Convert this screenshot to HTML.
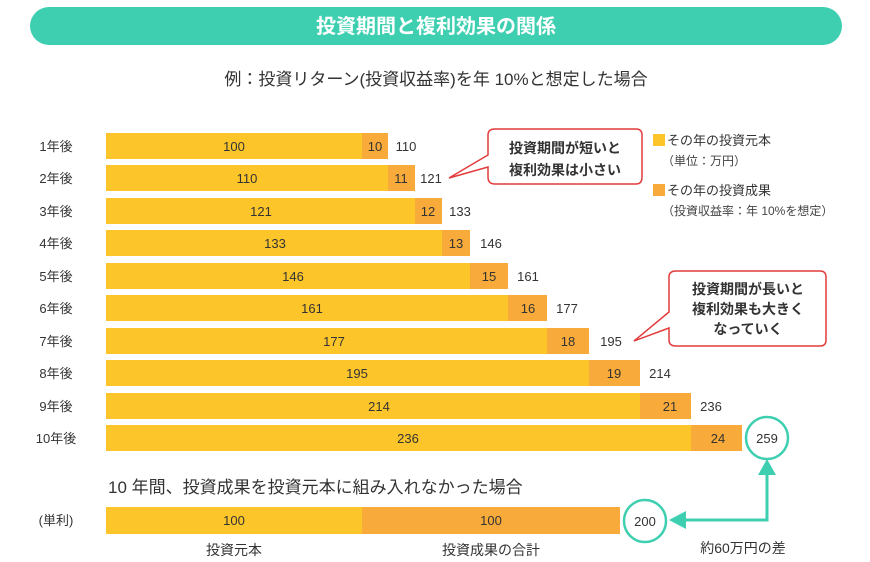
<!DOCTYPE html>
<html><head><meta charset="utf-8"><style>
body{margin:0;background:#fff;}
svg{display:block;font-family:"Liberation Sans","Noto Sans CJK JP",sans-serif;}
</style></head><body>
<svg width="870" height="562" viewBox="0 0 870 562" xmlns="http://www.w3.org/2000/svg">
<rect x="30" y="7" width="812" height="38" rx="19" fill="#3ecfb1"/>
<text x="436" y="33" font-size="20" font-weight="bold" fill="#fff" text-anchor="middle">投資期間と複利効果の関係</text>
<text x="436" y="85" font-size="17" fill="#333" text-anchor="middle">例：投資リターン(投資収益率)を年 10%と想定した場合</text>
<g font-size="13" fill="#333">
<g id="rows"></g>
</g>
<g font-size="13" fill="#333" text-anchor="middle">
<!-- rows: top=133+(i)*32.4 -->
<text x="56" y="151">1年後</text>
<rect x="106" y="133" width="256" height="26" fill="#fcc52a"/><rect x="362" y="133" width="26" height="26" fill="#f8ab3a"/>
<text x="234" y="151">100</text><text x="375" y="151">10</text><text x="406" y="151">110</text>

<text x="56" y="183">2年後</text>
<rect x="106" y="165" width="282" height="26" fill="#fcc52a"/><rect x="388" y="165" width="27" height="26" fill="#f8ab3a"/>
<text x="247" y="183">110</text><text x="401" y="183">11</text><text x="431" y="183">121</text>

<text x="56" y="216">3年後</text>
<rect x="106" y="198" width="309" height="26" fill="#fcc52a"/><rect x="415" y="198" width="27" height="26" fill="#f8ab3a"/>
<text x="261" y="216">121</text><text x="428" y="216">12</text><text x="460" y="216">133</text>

<text x="56" y="248">4年後</text>
<rect x="106" y="230" width="336" height="26" fill="#fcc52a"/><rect x="442" y="230" width="28" height="26" fill="#f8ab3a"/>
<text x="275" y="248">133</text><text x="456" y="248">13</text><text x="491" y="248">146</text>

<text x="56" y="281">5年後</text>
<rect x="106" y="263" width="364" height="26" fill="#fcc52a"/><rect x="470" y="263" width="38" height="26" fill="#f8ab3a"/>
<text x="293" y="281">146</text><text x="489" y="281">15</text><text x="528" y="281">161</text>

<text x="56" y="313">6年後</text>
<rect x="106" y="295" width="402" height="26" fill="#fcc52a"/><rect x="508" y="295" width="39" height="26" fill="#f8ab3a"/>
<text x="312" y="313">161</text><text x="528" y="313">16</text><text x="567" y="313">177</text>

<text x="56" y="346">7年後</text>
<rect x="106" y="328" width="441" height="26" fill="#fcc52a"/><rect x="547" y="328" width="42" height="26" fill="#f8ab3a"/>
<text x="334" y="346">177</text><text x="568" y="346">18</text><text x="611" y="346">195</text>

<text x="56" y="378">8年後</text>
<rect x="106" y="360" width="483" height="26" fill="#fcc52a"/><rect x="589" y="360" width="51" height="26" fill="#f8ab3a"/>
<text x="357" y="378">195</text><text x="614" y="378">19</text><text x="660" y="378">214</text>

<text x="56" y="411">9年後</text>
<rect x="106" y="393" width="534" height="26" fill="#fcc52a"/><rect x="640" y="393" width="51" height="26" fill="#f8ab3a"/>
<text x="379" y="411">214</text><text x="670" y="411">21</text><text x="711" y="411">236</text>

<text x="56" y="443">10年後</text>
<rect x="106" y="425" width="585" height="26" fill="#fcc52a"/><rect x="691" y="425" width="51" height="26" fill="#f8ab3a"/>
<text x="408" y="443">236</text><text x="718" y="443">24</text>

<circle cx="767" cy="438" r="21" fill="#fff" stroke="#3ecfb1" stroke-width="2.5"/>
<text x="767" y="443">259</text>

<text x="56" y="525">(単利)</text>
<rect x="106" y="507" width="256" height="27" fill="#fcc52a"/><rect x="362" y="507" width="258" height="27" fill="#f8ab3a"/>
<text x="234" y="525">100</text><text x="491" y="525">100</text>
<circle cx="645" cy="521" r="21" fill="#fff" stroke="#3ecfb1" stroke-width="2.5"/>
<text x="645" y="526">200</text>
<text x="234" y="555" font-size="14">投資元本</text>
<text x="491" y="555" font-size="14">投資成果の合計</text>
<text x="743" y="553" font-size="14">約60万円の差</text>
</g>
<text x="108" y="493" font-size="17" fill="#333">10 年間、投資成果を投資元本に組み入れなかった場合</text>
<!-- arrows -->
<polyline points="767,470 767,520 680,520" fill="none" stroke="#3ecfb1" stroke-width="3"/>
<polygon points="767,459 758,475 776,475" fill="#3ecfb1"/>
<polygon points="669,520 686,511 686,529" fill="#3ecfb1"/>
<!-- callout 1 -->
<path d="M495,129 H636 Q642,129 642,135 V177 Q642,184 636,184 H495 Q488,184 488,177 V167 L449,178 L488,155 V135 Q488,129 495,129 Z" fill="#fff" stroke="#e23b3b" stroke-width="1.5"/>
<text x="565" y="153" font-size="14" font-weight="bold" fill="#333" text-anchor="middle">投資期間が短いと</text>
<text x="565" y="175" font-size="14" font-weight="bold" fill="#333" text-anchor="middle">複利効果は小さい</text>
<!-- callout 2 -->
<path d="M676,271 H820 Q826,271 826,277 V340 Q826,346 820,346 H676 Q669,346 669,340 V328 L634,341 L669,312 V277 Q669,271 676,271 Z" fill="#fff" stroke="#e23b3b" stroke-width="1.5"/>
<text x="748" y="294" font-size="14" font-weight="bold" fill="#333" text-anchor="middle">投資期間が長いと</text>
<text x="748" y="314" font-size="14" font-weight="bold" fill="#333" text-anchor="middle">複利効果も大きく</text>
<text x="748" y="334" font-size="14" font-weight="bold" fill="#333" text-anchor="middle">なっていく</text>
<!-- legend -->
<rect x="653" y="134" width="12" height="12" fill="#fcc52a"/>
<text x="667" y="145" font-size="13" fill="#333">その年の投資元本</text>
<text x="662" y="165" font-size="12" fill="#444">（単位：万円）</text>
<rect x="653" y="184" width="12" height="12" fill="#f8ab3a"/>
<text x="667" y="195" font-size="13" fill="#333">その年の投資成果</text>
<text x="662" y="215" font-size="12" fill="#444">（投資収益率：年 10%を想定）</text>
</svg>
</body></html>
